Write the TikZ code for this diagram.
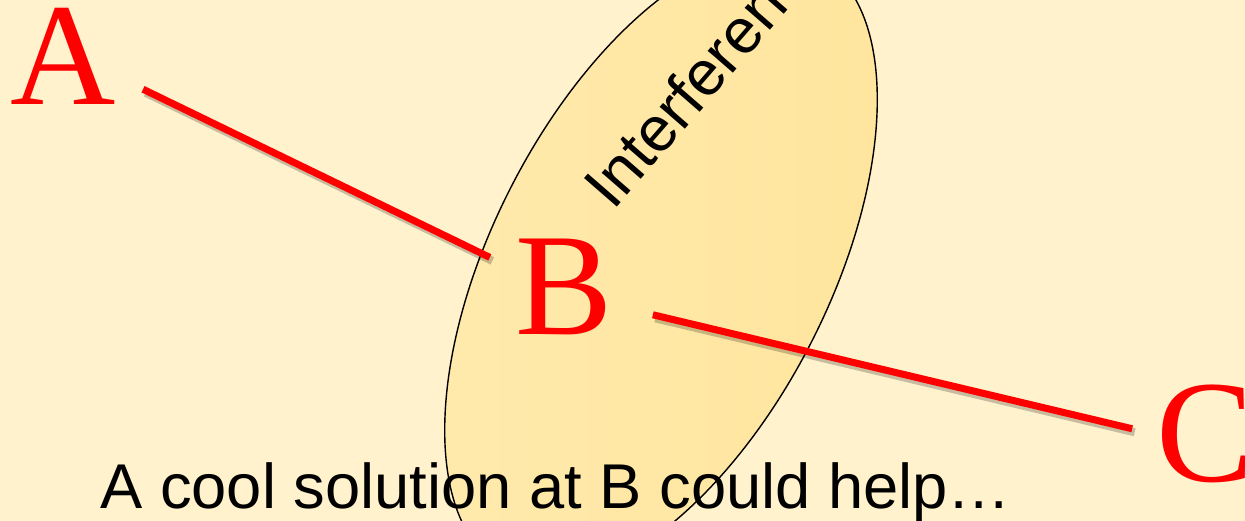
\documentclass[tikz,border=0pt]{standalone}
\usepackage{fontspec}
\setmainfont{Liberation Serif}
\newfontfamily\arialfont{Liberation Sans}
\usepackage{tikz}
\definecolor{bgcream}{HTML}{FFF2CC}
\definecolor{lensfill}{HTML}{FFE59D}
\definecolor{lenslight}{HTML}{FFEAAD}
\definecolor{sigred}{HTML}{FF0000}

\begin{document}
\begin{tikzpicture}[every node/.style={inner sep=0pt,anchor=base west},
    letter/.style={text=sigred,font=\fontsize{83}{90}\selectfont},
    caption/.style={font=\arialfont\fontsize{36}{43}\selectfont},
    link/.style={draw=sigred,line width=4pt,
      preaction={draw=black,opacity=0.22,line width=4.6pt,
        transform canvas={shift={(0.05,-0.07)}}}}]
  \useasboundingbox (0,0) rectangle (24.9,10.42);
  \clip (0,0) rectangle (24.9,10.42);
  \fill[bgcream] (0,0) rectangle (24.9,10.42);
  % interference region
  \draw[line width=0.8pt,left color=lenslight,right color=lensfill,
        shift={(13.22,5.12)},rotate=63]
    (0,0) ellipse [x radius=6.84cm,y radius=3.38cm];
  \node[caption,rotate=49] (interf) at (12.26,6.18) {Interference};
  \node[caption] (note) at (2.0,0.24) {A cool solution at B could help…};
  % the three stations
  \node[letter] (A) at (0.2,8.32) {A};
  \node[letter] (B) at (10.3,3.72) {B};
  \node[letter] (C) at (23.12,0.78) {C};
  \draw[link,shorten <=0.6cm,shorten >=0.56cm] (A.-20) -- (B.160);
  \draw[link,shorten <=0.82cm,shorten >=0.49cm] (B.-20) -- (C.west);
\end{tikzpicture}
\end{document}
